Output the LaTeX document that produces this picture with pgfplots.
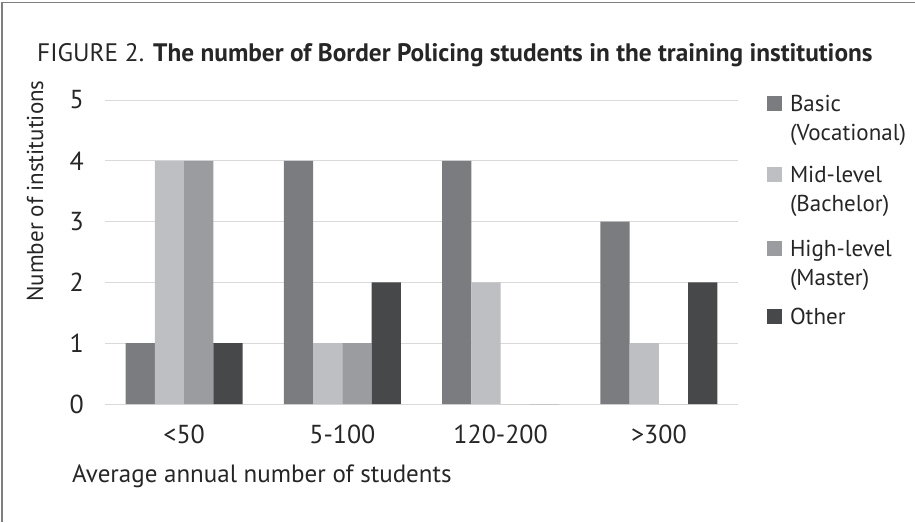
\documentclass[border=0pt]{standalone}
\usepackage{fontspec}
\setmainfont{PT Sans}
\usepackage{pgfplots}
\pgfplotsset{compat=1.18}
\definecolor{cBasic}{HTML}{7B7C80}
\definecolor{cMid}{HTML}{BEBFC3}
\definecolor{cHigh}{HTML}{9B9CA0}
\definecolor{cOther}{HTML}{47484A}
\definecolor{cGrid}{HTML}{D9D9D9}
\definecolor{cFrame}{HTML}{7F7F7F}
\definecolor{cText}{HTML}{262626}
\pgfplotsset{sq/.style={legend image code/.code={\fill[##1] (0pt,0pt) rectangle (15pt,15pt); \path (23pt,0pt);}}}
\newcommand{\lt}[2]{\raisebox{0pt}[#1][0pt]{#2}}
\begin{document}
\begin{tikzpicture}[x=1pt,y=1pt]
\path[use as bounding box] (0,0) rectangle (915,-522);
\draw[cFrame, line width=1.5pt] (2,-522) -- (2,-2.5) -- (915,-2.5);
\node[anchor=base west, inner sep=0pt, text=cText, font=\fontsize{25.3}{30}\selectfont] at (37,-61) {FIGURE 2. \textbf{The number of Border Policing students in the training institutions}};
\node[rotate=90, inner sep=0pt, text=cText, font=\fontsize{23}{27}\selectfont] at (35,-191) {Number of institutions};
\node[anchor=base west, inner sep=0pt, text=cText, font=\fontsize{25}{30}\selectfont] at (72,-482) {Average annual number of students};
\begin{axis}[
  at={(105pt,-404pt)}, anchor=south west,
  scale only axis, width=633pt, height=304pt,
  xmin=-0.5, xmax=3.5, ymin=0, ymax=5,
  ybar=0pt, bar width=29.3pt,
  xtick={0,1,2,3}, xticklabels={{<50},{5-100},{120-200},{>300}},
  ytick={0,1,2,3,4,5},
  /pgf/number format/assume math mode=true,
  tick label style={font=\fontsize{26}{30}\selectfont, text=cText},
  yticklabel style={anchor=east, inner sep=0pt, xshift=-21pt},
  xticklabel style={anchor=base, inner sep=0pt, yshift=-39pt},
  major tick length=0pt,
  ymajorgrids, major grid style={cGrid, line width=1pt},
  axis x line*=bottom, axis y line*=left,
  x axis line style={cGrid, line width=1pt},
  y axis line style={draw=none},
  legend style={draw=none, fill=none, at={(1.0458,1.0197)}, anchor=north west,
    inner sep=0pt, outer sep=0pt, row sep=0pt,
    nodes={inner sep=0pt, outer sep=0pt, font=\fontsize{23}{24.5}\selectfont, text=cText},
    cells={anchor=base west}},
]
\addplot[fill=cBasic, draw=none, sq] coordinates {(0,1) (1,4) (2,4) (3,3)};
\addlegendentry{\lt{17pt}{Basic}}
\addlegendimage{empty legend}
\addlegendentry{\lt{28pt}{(Vocational)}}
\addplot[fill=cMid, draw=none, sq] coordinates {(0,4) (1,1) (2,2) (3,1)};
\addlegendentry{\lt{40pt}{Mid-level}}
\addlegendimage{empty legend}
\addlegendentry{\lt{28pt}{(Bachelor)}}
\addplot[fill=cHigh, draw=none, sq] coordinates {(0,4) (1,1) (2,0) (3,0)};
\addlegendentry{\lt{43pt}{High-level}}
\addlegendimage{empty legend}
\addlegendentry{\lt{28pt}{(Master)}}
\addplot[fill=cOther, draw=none, sq] coordinates {(0,1) (1,2) (2,0) (3,2)};
\addlegendentry{\lt{37pt}{Other}}
\end{axis}
\end{tikzpicture}
\end{document}
